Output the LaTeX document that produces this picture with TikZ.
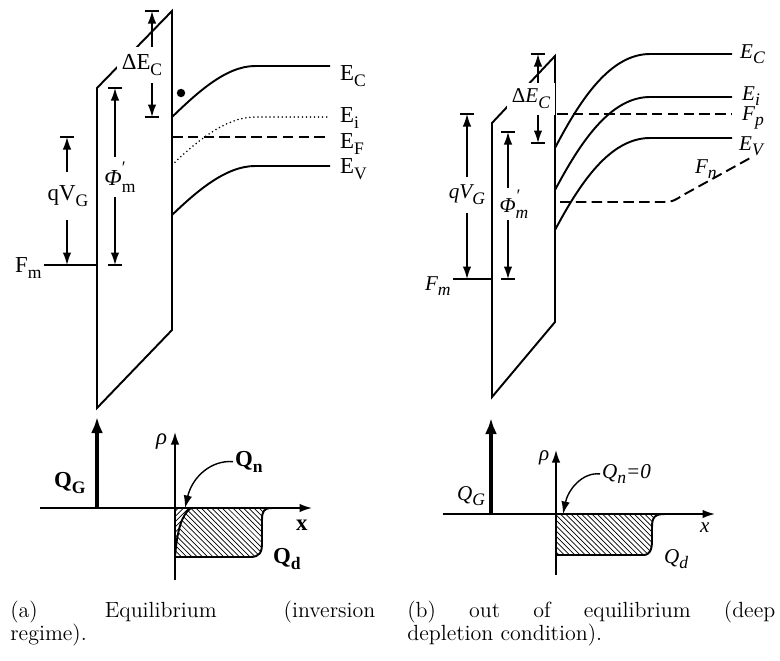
\documentclass[tikz,border=0pt]{standalone}
\usepackage{fontspec}
\newfontfamily\bookf{Liberation Serif}
\usetikzlibrary{arrows.meta,patterns}
\tikzset{
  >={Latex[length=2.5mm,width=1.7mm]},
  band/.style={line width=1.1pt},
  oxide/.style={line width=1.1pt,line join=miter},
  dotband/.style={line width=1pt,line cap=round,dash pattern=on 0pt off 2.3pt},
  dashband/.style={line width=1.1pt,dash pattern=on 6pt off 3pt},
  dim/.style={->,line width=0.8pt},
  bar/.style={line width=1pt},
  axis/.style={->,line width=0.9pt},
  qg/.style={-{Latex[length=3.2mm,width=2.4mm]},line width=1.9pt},
  hatchd/.style={pattern=north west lines},
  hatchn/.style={pattern=north east lines},
  lbla/.style={font=\bookf\fontsize{13}{15}\selectfont,inner sep=1pt,anchor=base west},
  lblb/.style={font=\bookf\itshape\fontsize{12}{14}\selectfont,inner sep=1pt,anchor=base west},
  gapa/.style={font=\bookf\fontsize{13}{15}\selectfont,inner xsep=3pt,inner ysep=0pt},
  gapb/.style={font=\bookf\itshape\fontsize{12}{14}\selectfont,inner xsep=3pt,inner ysep=0pt},
  capt/.style={font=\fontsize{12.5}{14}\selectfont,anchor=base west,inner sep=0pt},
}
\newcommand{\lo}[1]{\raisebox{-0.6ex}{\fontsize{10}{10}\selectfont #1}}
\newcommand{\prm}{\rlap{\raisebox{1.2ex}{\fontsize{10}{10}\selectfont ′}}}
\newcommand{\tick}[1]{\draw[bar] (#1) ++(-7,0) -- ++(14,0);}
\begin{document}
\begin{tikzpicture}[x=0.02cm,y=-0.02cm]
  \useasboundingbox (0,0) rectangle (780,660);
  % (a) equilibrium
  \draw[oxide] (97,408) -- (97,88) -- (172,11) -- (172,330) -- cycle;
  \draw[band] (172,117) .. controls (195,95) and (225,66) .. (255,66) -- (330,66);
  \draw[dotband] (172,165) .. controls (195,143) and (225,117) .. (255,117) -- (330,117);
  \draw[dashband] (172,137) -- (330,137);
  \draw[band] (172,215) .. controls (195,193) and (225,166) .. (255,166) -- (330,166);
  \fill (181,93) circle[radius=2.4pt];
  \node[lbla] (Eca) at (338,80) {E\lo{C}};
  \node[lbla] (Eia) at (338,122) {E\lo{i}};
  \node[lbla] (Efa) at (338,148) {E\lo{F}};
  \node[lbla] (Eva) at (338,173) {E\lo{V}};
  \node[lbla] (Fma) at (13,272) {F\lo{m}};
  \coordinate (fma) at (97,265);
  \draw[band] (Fma.east |- fma) -- (fma);
  \node[gapa,fill=white,minimum height=0.72cm] (dEa) at (142,65) {ΔE\lo{C}};
  \coordinate (dEat) at (152,11); \coordinate (dEab) at (152,117);
  \tick{dEat}\tick{dEab}
  \draw[dim] (dEa.north -| dEat) -- (dEat);
  \draw[dim] (dEa.south -| dEab) -- (dEab);
  \node[gapa,minimum height=0.8cm] (pha) at (120,177) {\textit{Φ}\prm\lo{m}};
  \coordinate (phat) at (115,88); \coordinate (phab) at (115,265);
  \tick{phat}\tick{phab}
  \draw[dim] (pha.north -| phat) -- (phat);
  \draw[dim] (pha.south -| phab) -- (phab);
  \node[gapa,minimum height=0.94cm] (qva) at (68,196) {qV\lo{G}};
  \coordinate (qvat) at (67,137); \coordinate (qvab) at (67,265);
  \tick{qvat}
  \draw[dim] (qva.north -| qvat) -- (qvat);
  \draw[dim] (qva.south -| qvab) -- (qvab);
  % (a) charge
  \fill[hatchd] (175,508) -- (175,557) -- (250,557) .. controls (260,557) and (262,552) .. (262,543)
    -- (262,520) .. controls (262,511) and (264,508) .. (272,508) -- cycle;
  \fill[white] (175,508) -- (175,557) .. controls (177,530) and (182,514) .. (191,508) -- cycle;
  \fill[hatchn] (175,508) -- (175,557) .. controls (177,530) and (182,514) .. (191,508) -- cycle;
  \draw[band] (175,557) -- (250,557) .. controls (260,557) and (262,552) .. (262,543)
    -- (262,520) .. controls (262,511) and (264,508) .. (272,508);
  \draw[band] (175,557) .. controls (177,530) and (182,514) .. (191,508);
  \coordinate (xa0) at (40,508); \coordinate (xa1) at (312,508);
  \coordinate (ra0) at (175,580); \coordinate (ra1) at (175,432);
  \coordinate (qga0) at (97,508); \coordinate (qga1) at (97,417);
  \draw[axis] (xa0) -- (xa1);
  \draw[axis] (ra0) -- (ra1);
  \draw[qg] (qga0) -- (qga1);
  \node[lbla] (rhoa) at (154,444) {\textit{ρ}};
  \node[lbla] (xla) at (294,530) {\bfseries x};
  \node[lbla] (QGa) at (52,487) {\bfseries Q\lo{G}};
  \node[lbla] (Qna) at (233,466) {\bfseries Q\lo{n}};
  \node[lbla] (Qda) at (271,563) {\bfseries Q\lo{d}};
  \coordinate (qnat) at (185,508);
  \draw[dim] (Qna.west) .. controls (210,460) and (192,478) .. (qnat);
  \node[capt] (capa1) at (10,617) {\makebox[7.3cm][s]{(a) Equilibrium (inversion}};
  \node[capt] (capa2) at (10,640) {regime).};
  % (b) out of equilibrium
  \draw[oxide] (492,397) -- (492,123) -- (555,56) -- (555,322) -- cycle;
  \draw[band] (555,148) .. controls (580,100) and (610,54) .. (650,54) -- (732,54);
  \draw[band] (555,190) .. controls (580,143) and (610,97) .. (650,97) -- (732,97);
  \draw[band] (555,230) .. controls (580,183) and (610,138) .. (650,138) -- (732,138);
  \draw[dashband] (557,114) -- (732,114);
  \draw[dashband] (560,202) -- (660,202) .. controls (672,202) .. (685,194) -- (752,157);
  \node[lblb] (Ecb) at (738,58) {E\lo{C}};
  \node[lblb] (Eib) at (740,100) {E\lo{i}};
  \node[lblb] (Fpb) at (740,120) {F\lo{p}};
  \node[lblb] (Evb) at (737,150) {E\lo{V}};
  \node[lblb] (Fnb) at (693,173) {F\lo{n}};
  \node[lblb] (Fmb) at (423,290) {F\lo{m}};
  \coordinate (fmb) at (492,279);
  \draw[band] (Fmb.east |- fmb) -- (fmb);
  \node[gapb,fill=white,minimum height=0.64cm] (dEb) at (531,99) {{\upshape Δ}E\lo{C}};
  \coordinate (dEbt) at (538,54); \coordinate (dEbb) at (538,143);
  \tick{dEbt}\tick{dEbb}
  \draw[dim] (dEb.north -| dEbt) -- (dEbt);
  \draw[dim] (dEb.south -| dEbb) -- (dEbb);
  \node[gapb,minimum height=0.64cm] (phb) at (514,204) {Φ\prm\lo{m}};
  \coordinate (phbt) at (508,132); \coordinate (phbb) at (508,279);
  \tick{phbt}\tick{phbb}
  \draw[dim] (phb.north -| phbt) -- (phbt);
  \draw[dim] (phb.south -| phbb) -- (phbb);
  \node[gapb,minimum height=0.7cm] (qvb) at (467,195) {qV\lo{G}};
  \coordinate (qvbt) at (467,114); \coordinate (qvbb) at (467,279);
  \tick{qvbt}
  \draw[dim] (qvb.north -| qvbt) -- (qvbt);
  \draw[dim] (qvb.south -| qvbb) -- (qvbb);
  % (b) charge
  \fill[hatchd] (556,514) -- (556,555) -- (643,555) .. controls (650,555) and (652,550) .. (652,540)
    -- (652,527) .. controls (652,517) and (655,514) .. (665,514) -- cycle;
  \draw[band] (556,555) -- (643,555) .. controls (650,555) and (652,550) .. (652,540)
    -- (652,527) .. controls (652,517) and (655,514) .. (665,514);
  \coordinate (xb0) at (443,514); \coordinate (xb1) at (715,514);
  \coordinate (rb0) at (556,575); \coordinate (rb1) at (556,450);
  \coordinate (qgb0) at (491,514); \coordinate (qgb1) at (491,418);
  \draw[axis] (xb0) -- (xb1);
  \draw[axis] (rb0) -- (rb1);
  \draw[qg] (qgb0) -- (qgb1);
  \node[lblb] (rhob) at (537,460) {ρ};
  \node[lblb] (xlb) at (698,532) {x};
  \node[lblb] (QGb) at (455,500) {Q\lo{G}};
  \node[lblb] (Qnb) at (600,478) {Q\lo{n}=0};
  \node[lblb] (Qdb) at (662,563) {Q\lo{d}};
  \coordinate (qnbt) at (563,514);
  \draw[dim] (Qnb.west) .. controls (582,472) and (568,490) .. (qnbt);
  \node[capt] (capb1) at (407,617) {\makebox[7.36cm][s]{(b) out of equilibrium (deep}};
  \node[capt] (capb2) at (407,640) {depletion condition).};
\end{tikzpicture}
\end{document}
